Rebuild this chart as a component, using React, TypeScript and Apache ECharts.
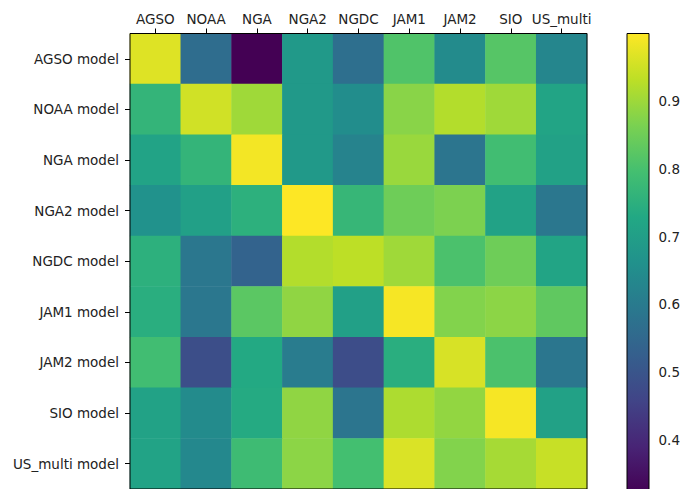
import React, { useEffect, useRef } from "react";
import * as echarts from "echarts";

const columns = ["AGSO", "NOAA", "NGA", "NGA2", "NGDC", "JAM1", "JAM2", "SIO", "US_multi"];
const rows = [
  "AGSO model",
  "NOAA model",
  "NGA model",
  "NGA2 model",
  "NGDC model",
  "JAM1 model",
  "JAM2 model",
  "SIO model",
  "US_multi model",
];

const rowAGSO = [0.967, 0.566, 0.327, 0.687, 0.573, 0.813, 0.647, 0.82, 0.633];
const rowNOAA = [0.767, 0.953, 0.903, 0.687, 0.653, 0.88, 0.923, 0.903, 0.72];
const rowNGA = [0.715, 0.767, 0.99, 0.687, 0.627, 0.897, 0.587, 0.793, 0.71];
const rowNGA2 = [0.667, 0.707, 0.753, 1.0, 0.773, 0.85, 0.867, 0.713, 0.593];
const rowNGDC = [0.753, 0.593, 0.54, 0.923, 0.933, 0.903, 0.807, 0.85, 0.72];
const rowJAM1 = [0.747, 0.593, 0.827, 0.887, 0.707, 0.993, 0.873, 0.883, 0.833];
const rowJAM2 = [0.793, 0.487, 0.733, 0.607, 0.483, 0.747, 0.96, 0.807, 0.59];
const rowSIO = [0.713, 0.647, 0.737, 0.887, 0.587, 0.917, 0.89, 0.993, 0.71];
const rowUS = [0.717, 0.64, 0.787, 0.883, 0.797, 0.963, 0.873, 0.91, 0.943];

const matrix = [rowAGSO, rowNOAA, rowNGA, rowNGA2, rowNGDC, rowJAM1, rowJAM2, rowSIO, rowUS];

const colorbarTicks = [0.4, 0.5, 0.6, 0.7, 0.8, 0.9];
const vMin = 0.327;
const vMax = 1.0;

const viridis = [
  "#440154",
  "#482475",
  "#414487",
  "#355f8d",
  "#2a788e",
  "#21918c",
  "#22a884",
  "#44bf70",
  "#7ad151",
  "#bddf26",
  "#fde725",
];

const FONT = "DejaVu Sans";
const TXT = "#222";

export default function App() {
  const ref = useRef<HTMLDivElement>(null);
  useEffect(() => {
    document.body.style.margin = "0";
    if (!ref.current) return;
    const chart = echarts.init(ref.current, null, { renderer: "svg" });
    const data: number[][] = [];
    matrix.forEach((r, i) => r.forEach((v, j) => data.push([j, i, v])));

    const cbLeft = 627;
    const cbTop = 33.5;
    const cbW = 22;
    const cbH = 459.5;

    chart.setOption({
      animation: false,
      backgroundColor: "#fff",
      grid: [
        {
          left: 130,
          top: 33.5,
          width: 457,
          height: 459.5,
          show: true,
          borderColor: "#000",
          borderWidth: 1,
          backgroundColor: "transparent",
          z: 10,
        },
        {
          left: cbLeft,
          top: cbTop,
          width: cbW,
          height: cbH,
          show: false,
        },
      ],
      xAxis: [
        {
          type: "category",
          gridIndex: 0,
          data: columns,
          position: "top",
          axisLine: { show: false },
          axisTick: { show: true, alignWithLabel: true, interval: 0, length: 5, lineStyle: { color: "#000" } },
          axisLabel: { color: TXT, fontFamily: FONT, fontSize: 13.5, margin: 8, interval: 0 },
          splitLine: { show: false },
          z: 20,
        },
        {
          type: "value",
          gridIndex: 1,
          show: false,
          min: 0,
          max: 1,
        },
      ],
      yAxis: [
        {
          type: "category",
          gridIndex: 0,
          data: rows,
          inverse: true,
          axisLine: { show: false },
          axisTick: { show: true, alignWithLabel: true, interval: 0, length: 5, lineStyle: { color: "#000" } },
          axisLabel: { color: TXT, fontFamily: FONT, fontSize: 13.5, margin: 11, interval: 0 },
          splitLine: { show: false },
          z: 20,
        },
        {
          type: "value",
          gridIndex: 1,
          position: "right",
          min: vMin,
          max: vMax,
          axisLine: { show: false },
          axisTick: {
            show: true,
            length: 5,
            lineStyle: { color: "#000" },
            customValues: colorbarTicks,
          },
          axisLabel: {
            color: TXT,
            fontFamily: FONT,
            fontSize: 13.5,
            margin: 10,
            customValues: colorbarTicks,
            formatter: (v: number) => v.toFixed(1),
          },
          splitLine: { show: false },
        },
      ],
      visualMap: {
        show: false,
        min: vMin,
        max: vMax,
        seriesIndex: 0,
        dimension: 2,
        inRange: { color: viridis },
      },
      graphic: [
        {
          type: "rect",
          shape: { x: cbLeft, y: cbTop, width: cbW, height: cbH },
          style: {
            fill: new echarts.graphic.LinearGradient(
              0,
              1,
              0,
              0,
              viridis.map((c, i) => ({ offset: i / (viridis.length - 1), color: c }))
            ),
            stroke: "#000",
            lineWidth: 1,
          },
          z: 5,
        },
      ],
      series: [
        {
          type: "heatmap",
          xAxisIndex: 0,
          yAxisIndex: 0,
          data,
          itemStyle: { borderWidth: 0 },
          emphasis: { disabled: true },
        },
        {
          type: "scatter",
          xAxisIndex: 1,
          yAxisIndex: 1,
          data: [],
          silent: true,
        },
      ],
    });
    return () => chart.dispose();
  }, []);
  return <div ref={ref} style={{ width: 683, height: 489 }} />;
}
